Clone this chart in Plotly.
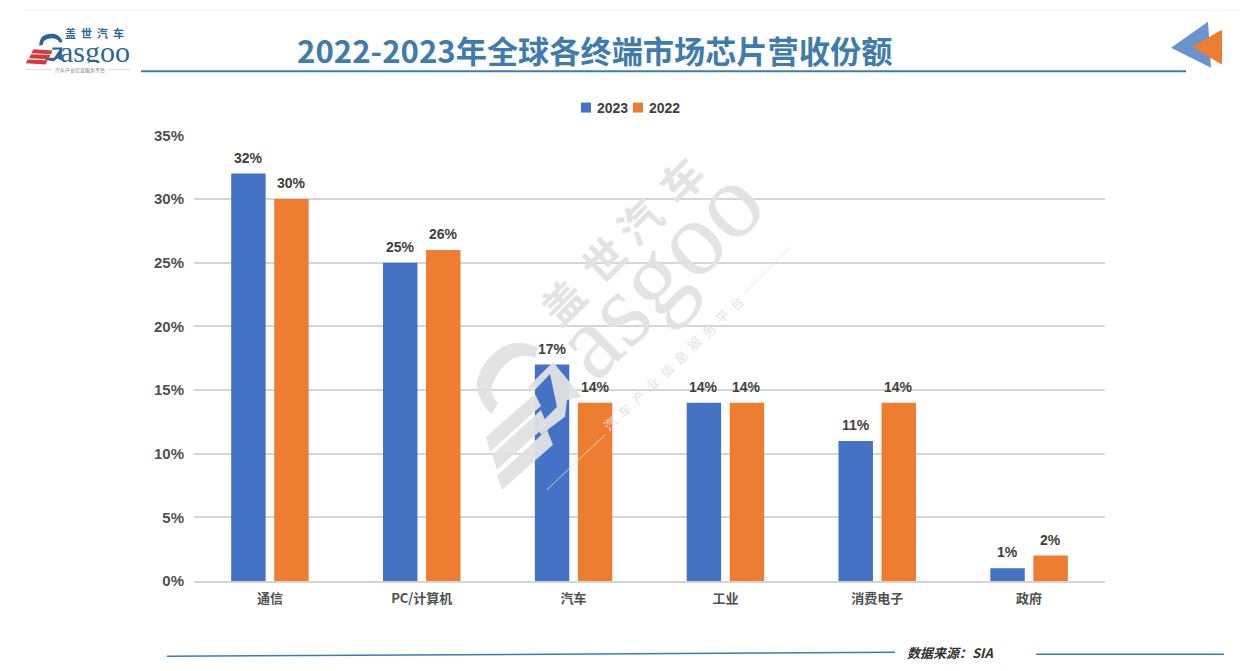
import math
import plotly.graph_objects as go

categories = ["通信", "PC/计算机", "汽车", "工业", "消费电子", "政府"]
values_2023 = [32, 25, 17, 14, 11, 1]
values_2022 = [30, 26, 14, 14, 14, 2]
y_ticks = [0, 5, 10, 15, 20, 25, 30, 35]
y_tick_labels = ["0%", "5%", "10%", "15%", "20%", "25%", "30%", "35%"]

W, H = 1245, 671
L, R, T, B = 194, 1105, 134.5, 581.5
CJK = "Noto Sans CJK SC"
SANS = "Liberation Sans"
SERIF = "Liberation Serif"
WM = "#e2e2e2"
LOGO = "#2f6595"
BLUE = "#4472c4"
ORANGE = "#ed7d31"


def px(x):
    return (x - L) / (R - L)


def py(y):
    return (B - y) / (B - T)


def path(points):
    s = " ".join(("M" if i == 0 else "L") + f"{px(x):.5f},{py(y):.5f}" for i, (x, y) in enumerate(points))
    return s + " Z"


fig = go.Figure()
shapes = []
ann = []
for name, vals, col, shift in [("2023", values_2023, BLUE, -21.5), ("2022", values_2022, ORANGE, 21.5)]:
    fig.add_bar(x=categories, y=vals, name=name, showlegend=False, marker=dict(color=col, line=dict(width=0)))
    for c, v in zip(categories, vals):
        ann.append(dict(x=c, y=v, xref="x", yref="y", text=f"{v}%", showarrow=False, xshift=shift, yshift=6,
                        xanchor="center", yanchor="bottom",
                        font=dict(family=SANS, size=14, color="#404040", weight="bold")))


def line(x0, y0, x1, y1, color, width):
    shapes.append(dict(type="line", xref="paper", yref="paper", x0=px(x0), y0=py(y0), x1=px(x1), y1=py(y1),
                       line=dict(color=color, width=width), layer="above"))


def poly(points, color, opacity=1):
    shapes.append(dict(type="path", xref="paper", yref="paper", path=path(points), fillcolor=color,
                       line=dict(width=0), opacity=opacity, layer="above"))


def text(x, y, s, size, color, family=CJK, bold=False, italic=False, angle=0, opacity=1, height=None):
    ann.append(dict(xref="paper", yref="paper", x=px(x), y=py(y), text=s, showarrow=False, textangle=angle,
                    xanchor="center", yanchor="middle", opacity=opacity, height=height,
                    font=dict(family=family, size=size, color=color, weight="bold" if bold else "normal",
                              style="italic" if italic else "normal")))


def curve(*segments):
    """Sample quadratic curves given as (start, control, end)."""
    pts = []
    for p0, c, p1 in segments:
        for k in range(13):
            t = k / 12
            pts.append(((1 - t) ** 2 * p0[0] + 2 * t * (1 - t) * c[0] + t * t * p1[0],
                        (1 - t) ** 2 * p0[1] + 2 * t * (1 - t) * c[1] + t * t * p1[1]))
    return pts


# the G mark, as it lies in the watermark
mark_arc = curve(((538, 348), (513, 335), (492, 355)), ((492, 355), (470, 378), (480, 398)),
                 ((480, 398), (484, 408), (492, 414))) + \
    curve(((498, 403), (488, 394), (494, 381)), ((494, 381), (503, 362), (517, 357)),
          ((517, 357), (527, 354), (535, 358)))
mark_stripes = [[(486, 437), (535, 394), (541, 406), (490, 452)],
                [(492, 455), (541, 410), (547, 425), (497, 470)],
                [(497, 476), (547, 430), (553, 445), (502, 490)]]
mark_arrow = [(528, 387), (553, 362), (582, 397), (567, 400), (565, 417), (541, 435), (537, 427), (557, 407),
              (550, 374), (533, 392)]


def to_logo(points, s=0.29, cx=520, cy=410, ox=46, oy=50):
    c = math.cos(math.radians(45))
    return [(ox + s * ((x - cx) * c - (y - cy) * c), oy + s * ((x - cx) * c + (y - cy) * c)) for x, y in points]


# header and footer
line(22, 9, 1240, 9, "#f6f6f6", 1)
line(141, 70.5, 1186, 70.5, "#3a7db3", 2)
text(594.5, 49, "2022-2023年全球各终端市场芯片营收份额", 31.2, "#3f7cac", bold=True)
poly([(1171, 47), (1208, 21), (1211, 67)], "#6a94cc")
poly([(1192, 46), (1222, 29), (1222, 64)], ORANGE)
line(167, 657, 895, 653, "#3a7db3", 1.5)
line(1036, 655, 1224, 655, "#3a7db3", 1.5)
text(950, 653, "数据来源：SIA", 13, "#303030", bold=True, italic=True)

# legend key, set tight as in the reference
for x0, col, label in [(581, BLUE, "2023"), (633, ORANGE, "2022")]:
    poly([(x0, 102), (x0 + 10, 102), (x0 + 10, 112), (x0, 112)], col)
    text(x0 + 31, 107, label, 14, "#404040", family=SANS, bold=True)

# logo
for i, ch in enumerate("盖世汽车"):
    text(70 + i * 16, 32, ch, 11, LOGO, bold=True, height=12)
text(95, 50, "asgoo", 30, LOGO, family=SERIF, height=24)
poly(to_logo(mark_arc), LOGO)
poly(to_logo(mark_arrow), LOGO)
for st in mark_stripes:
    poly(to_logo(st), "#d9363e")
line(26, 69, 52, 69, "#c8c8c8", 0.7)
line(108, 69, 130, 69, "#c8c8c8", 0.7)
text(80, 69, "汽车产业信息服务平台", 5, "#777777", height=6)

# watermark
poly(mark_arc, WM, 0.95)
for st in mark_stripes:
    poly(st, WM, 0.95)
poly(mark_arrow, WM, 0.95)
text(657, 272, "asgoo", 106, WM, family=SERIF, angle=-45, opacity=0.95)
for (x, y), ch in zip([(561, 300), (602, 258), (638, 220), (680, 178)], "盖世汽车"):
    text(x, y, ch, 42, WM, bold=True, angle=-45, opacity=0.95)
for i, ch in enumerate("汽车产业信息服务平台"):
    text(610 + i * 14, 424 - i * 13.4, ch, 13, WM, angle=-45, opacity=0.95)
line(547, 490, 605, 435, "#e6e6e6", 0.8)
line(745, 293, 791, 246, "#e6e6e6", 0.8)

fig.update_layout(
    width=W, height=H, autosize=False,
    margin=dict(l=L, r=W - R, t=T, b=H - B, pad=0),
    paper_bgcolor="white", plot_bgcolor="white",
    barmode="group", bargap=0.433, bargroupgap=0.2,
    showlegend=False,
    shapes=shapes, annotations=ann,
    xaxis=dict(showgrid=False, showline=True, linecolor="#d4d4d4", linewidth=2, ticks="", ticklabelstandoff=4,
               tickfont=dict(family=CJK, size=13, color="#505050", weight="bold"), fixedrange=True),
    yaxis=dict(range=[0, 35.03], tickvals=y_ticks, ticktext=y_tick_labels, showgrid=True,
               gridcolor="#d6d6d6", gridwidth=2, zeroline=False, showline=False, ticks="", ticklabelstandoff=9,
               tickfont=dict(family=SANS, size=15, color="#505050", weight="bold"), fixedrange=True),
)

fig.write_html("out.html", config={"displayModeBar": False},
               post_script="document.body.style.margin='0';")
